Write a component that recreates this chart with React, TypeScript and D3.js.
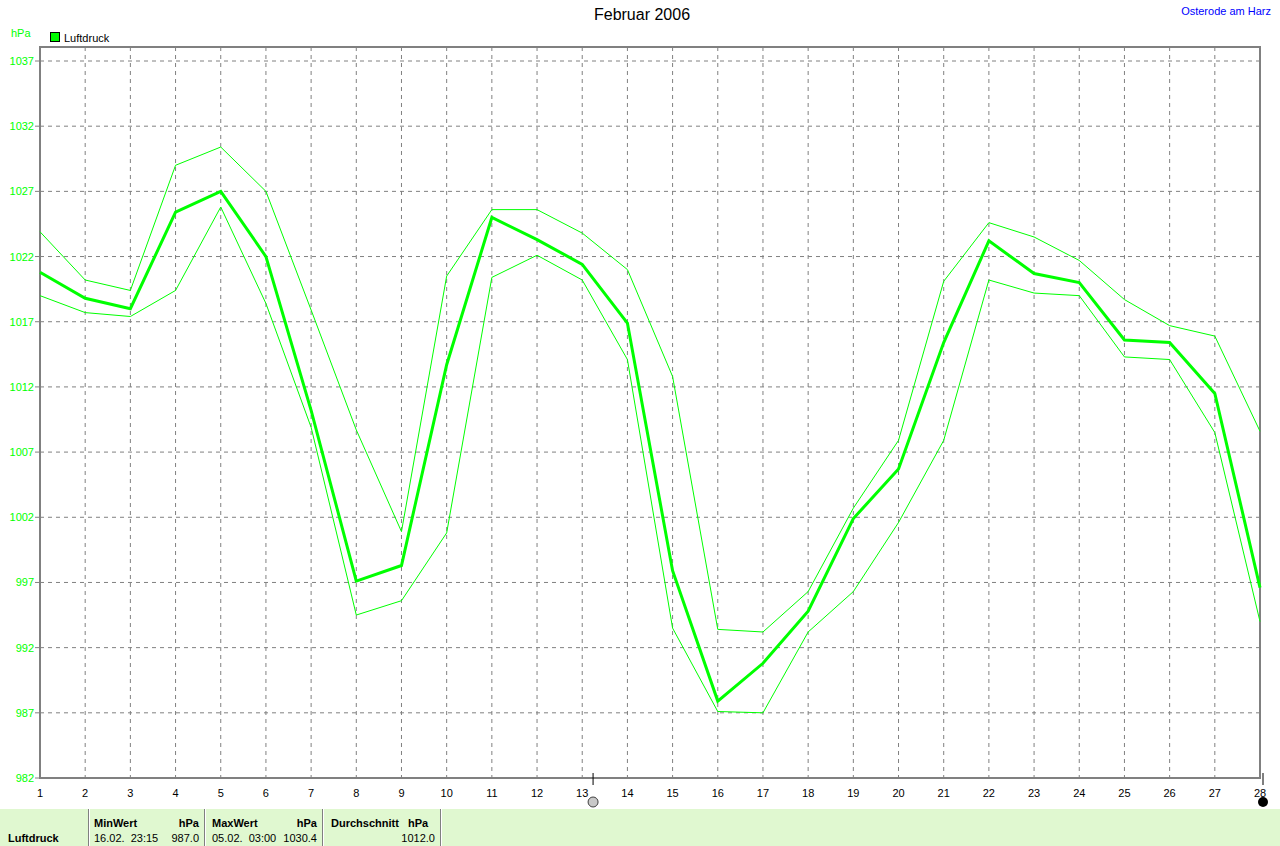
import React from 'react';
import * as d3 from 'd3';

// Luftdruck Februar 2006, Tageswerte (hPa)
const days = d3.range(1, 29);
const mittel = [1020.8, 1018.8, 1018.0, 1025.4, 1027.0, 1022.0, 1010.2, 997.1, 998.3, 1013.7, 1025.0, 1023.3, 1021.4, 1016.9, 997.9, 987.9, 990.8, 994.8, 1001.9, 1005.7, 1015.4, 1023.2, 1020.7, 1020.0, 1015.6, 1015.4, 1011.5, 996.6];
const maxWerte = [1023.9, 1020.2, 1019.4, 1029.0, 1030.4, 1027.0, 1017.9, 1008.7, 1000.9, 1020.5, 1025.6, 1025.6, 1023.8, 1021.0, 1012.8, 993.4, 993.2, 996.3, 1002.7, 1007.9, 1020.1, 1024.6, 1023.5, 1021.7, 1018.7, 1016.7, 1015.9, 1008.6];
const minWerte = [1019.0, 1017.7, 1017.4, 1019.4, 1025.8, 1018.4, 1008.9, 994.5, 995.6, 1000.8, 1020.4, 1022.1, 1020.2, 1014.1, 993.5, 987.1, 987.0, 993.2, 996.3, 1001.6, 1007.9, 1020.2, 1019.2, 1019.0, 1014.3, 1014.1, 1008.5, 994.0];
const yTicks = [982, 987, 992, 997, 1002, 1007, 1012, 1017, 1022, 1027, 1032, 1037];
const markerDay = 13.24;

const W = 1280;
const H = 846;
const left = 40;
const right = 1260;
const top = 47;
const bottom = 778;
const font = "'Liberation Sans', Arial, sans-serif";
const green = '#00ff00';

const App: React.FC = () => {
  const x = d3.scaleLinear().domain([1, 28]).range([left, right]);
  const y = d3.scaleLinear().domain([982, 1037]).range([bottom, 61]);

  const line = d3
    .line<number>()
    .x((_, i) => x(days[i]))
    .y((d) => y(d));

  return (
    <svg width={W} height={H} style={{ position: 'absolute', left: 0, top: 0, background: '#fff' }} fontFamily={font}>
      {/* Gitter */}
      {days.slice(1, -1).map((d) => (
        <line key={'v' + d} x1={x(d)} x2={x(d)} y1={top} y2={bottom} stroke="#808080" strokeDasharray="4,4" />
      ))}
      {yTicks.slice(1).map((t) => (
        <line key={'h' + t} x1={left} x2={right} y1={y(t)} y2={y(t)} stroke="#808080" strokeDasharray="4,4" />
      ))}

      {/* Rahmen */}
      <path d={`M${left},${bottom}V${top}H${right}V${bottom}`} fill="none" stroke="#808080" strokeWidth={2} />
      <line x1={left - 1} x2={right + 1} y1={bottom} y2={bottom} stroke="#808080" strokeWidth={2} />

      {/* Y-Achse */}
      {yTicks.map((t) => (
        <g key={'yt' + t}>
          <line x1={35} x2={left} y1={y(t)} y2={y(t)} stroke="#808080" />
          <text x={34} y={y(t) + 4} textAnchor="end" fontSize={11} fill={green}>{t}</text>
        </g>
      ))}
      <text x={11} y={37} fontSize={11} fill={green}>hPa</text>

      {/* X-Achse */}
      {days.map((d) => (
        <text key={'xt' + d} x={x(d)} y={797} textAnchor="middle" fontSize={11} fill="#000">{d}</text>
      ))}

      {/* Linien */}
      <path d={line(maxWerte) ?? ''} fill="none" stroke={green} strokeWidth={1} />
      <path d={line(minWerte) ?? ''} fill="none" stroke={green} strokeWidth={1} />
      <path d={line(mittel) ?? ''} fill="none" stroke={green} strokeWidth={3} />

      {/* Marker */}
      <line x1={x(markerDay)} x2={x(markerDay)} y1={773} y2={785} stroke="#000" />
      <circle cx={x(markerDay)} cy={802} r={5} fill="#c8c8c8" stroke="#404040" />
      <line x1={right + 3} x2={right + 3} y1={773} y2={785} stroke="#000" />
      <circle cx={right + 3} cy={802} r={5} fill="#000" />

      {/* Titel */}
      <text x={642} y={20} textAnchor="middle" fontSize={16} fill="#000">Februar 2006</text>
      <text x={1271} y={15} textAnchor="end" fontSize={11} fill="#0000ff">Osterode am Harz</text>

      {/* Legende */}
      <rect x={50.5} y={32.5} width={9} height={9} fill={green} stroke="#000" />
      <text x={64} y={42} fontSize={11} fill="#000">Luftdruck</text>

      {/* Tabelle */}
      <rect x={0} y={809} width={W} height={37} fill="#e0f8d0" />
      {[88, 204, 322, 440].map((sx) => (
        <g key={'s' + sx}>
          <line x1={sx + 0.5} x2={sx + 0.5} y1={809} y2={846} stroke="#808080" />
          <line x1={sx + 1.5} x2={sx + 1.5} y1={809} y2={846} stroke="#ffffff" />
        </g>
      ))}
      <g fontSize={11} fill="#000">
        <text x={8} y={842} fontWeight="bold">Luftdruck</text>
        <text x={94} y={827} fontWeight="bold">MinWert</text>
        <text x={199} y={827} fontWeight="bold" textAnchor="end">hPa</text>
        <text x={94} y={842} xmlSpace="preserve">16.02.  23:15</text>
        <text x={199} y={842} textAnchor="end">987.0</text>
        <text x={212} y={827} fontWeight="bold">MaxWert</text>
        <text x={317} y={827} fontWeight="bold" textAnchor="end">hPa</text>
        <text x={212} y={842} xmlSpace="preserve">05.02.  03:00</text>
        <text x={317} y={842} textAnchor="end">1030.4</text>
        <text x={331} y={827} fontWeight="bold" xmlSpace="preserve">Durchschnitt   hPa</text>
        <text x={435} y={842} textAnchor="end">1012.0</text>
      </g>
    </svg>
  );
};

export default App;
